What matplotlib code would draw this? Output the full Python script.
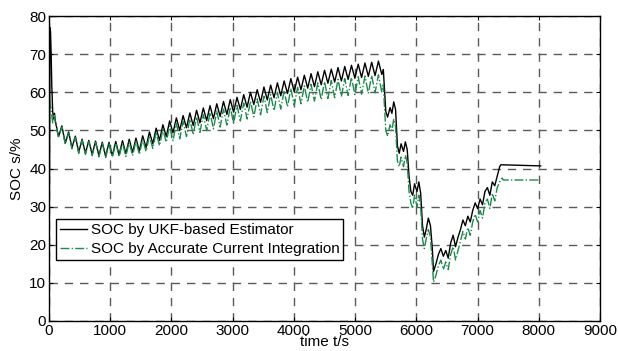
import numpy as np
import matplotlib
matplotlib.use("Agg")
import matplotlib.pyplot as plt

plt.rcParams['font.family'] = ['Liberation Sans', 'DejaVu Sans']

# start-up transient
head_t_ukf = [0, 15, 25, 35, 45, 60, 75, 90]
head_ukf = [0, 77, 76, 70, 62, 55, 53, 54.5]
head_t_ref = [0, 8, 30, 60, 80]
head_ref = [0, 58, 56, 52, 54]

# driving-cycle part, one value every 55 s from t=100 (peak, trough, ...)
osc_ukf = [52.8, 48.4, 51.2, 46.7, 49.6, 45.5, 48.5, 44.3, 47.7, 44.0,
           47.4, 43.7, 47.2, 43.4, 46.9, 43.2, 46.9, 43.4, 47.1, 43.6,
           47.3, 43.9, 47.7, 44.2, 48.0, 44.6, 48.6, 45.5, 49.6, 46.5,
           50.6, 47.4, 51.5, 48.4, 52.5, 49.4, 53.3, 50.0, 53.9, 50.7,
           54.6, 51.3, 55.3, 52.0, 55.9, 52.6, 56.5, 53.1, 57.0, 53.7,
           57.6, 54.2, 58.1, 54.8, 58.7, 55.5, 59.4, 56.1, 60.0, 56.8,
           60.7, 57.4, 61.4, 58.0, 61.9, 58.6, 62.5, 59.1, 63.0, 59.7,
           63.6, 60.2, 64.0, 60.7, 64.5, 61.1, 64.9, 61.5, 65.4, 62.0,
           65.8, 62.4, 66.1, 62.7, 66.5, 63.0, 66.8, 63.4, 67.1, 63.7,
           67.4, 63.9, 67.7, 64.2, 67.9, 64.4, 68.2, 64.7]
osc_ref = [52.5, 48.1, 50.9, 46.4, 49.3, 45.2, 48.2, 44.0, 47.4, 43.7,
           47.1, 43.4, 46.9, 43.1, 46.6, 42.9, 46.5, 43.0, 46.7, 43.1,
           46.7, 43.2, 47.0, 43.4, 47.2, 43.7, 47.7, 44.5, 48.6, 45.3,
           49.5, 46.0, 50.3, 46.9, 51.2, 47.3, 51.9, 47.8, 52.4, 48.4,
           53.0, 48.9, 53.6, 49.5, 54.2, 50.0, 54.7, 50.4, 55.1, 50.9,
           55.6, 51.4, 56.1, 51.9, 56.6, 52.5, 57.2, 53.0, 57.7, 53.6,
           58.3, 54.1, 59.0, 54.7, 59.4, 55.2, 60.0, 55.6, 60.4, 56.2,
           61.0, 56.6, 61.3, 57.0, 61.7, 57.4, 62.1, 57.7, 62.5, 58.1,
           62.8, 58.4, 63.1, 58.6, 63.4, 58.9, 63.6, 59.2, 63.9, 59.4,
           64.1, 59.5, 64.3, 59.7, 64.4, 59.9, 64.6, 60.1]

# discharge / charge part
tail_t_ukf = [5460, 5500, 5530, 5570, 5600, 5630, 5660, 5690, 5720, 5750,
              5790, 5820, 5850, 5880, 5910, 5940, 5970, 6010, 6040, 6070,
              6100, 6130, 6160, 6195, 6230, 6260, 6280, 6320, 6360, 6400,
              6440, 6480, 6520, 6560, 6600, 6640, 6680, 6720, 6760, 6800,
              6840, 6880, 6920, 6960, 7000, 7040, 7080, 7120, 7160, 7200,
              7240, 7280, 7320, 7360, 7380, 8030]
tail_ukf = [66, 55, 53.5, 56, 54.5, 57.5, 55.5, 46, 44, 46.5,
            44.5, 47, 45, 38, 34, 33, 36, 34, 36.5, 33.5,
            25, 22, 24, 27, 25, 19, 13, 15, 17.5, 19,
            17, 18.5, 16.5, 20.5, 22.5, 19.5, 22, 24, 26.5, 25,
            27.5, 26, 29, 31, 29.5, 32, 30.5, 34, 35, 33,
            36.5, 35.5, 38, 40.5, 41, 40.7]
tail_t_ref = [5460, 5500, 5530, 5570, 5600, 5630, 5660, 5690, 5720, 5750,
              5790, 5820, 5850, 5880, 5910, 5940, 5970, 6010, 6040, 6070,
              6100, 6130, 6160, 6195, 6230, 6260, 6280, 6320, 6360, 6400,
              6440, 6480, 6520, 6560, 6600, 6640, 6680, 6720, 6760, 6800,
              6840, 6880, 6920, 6960, 7000, 7040, 7080, 7120, 7160, 7200,
              7240, 7280, 7320, 7360, 7400, 7420, 8030]
tail_ref = [62, 50, 48.5, 51.5, 50, 53, 51, 42, 40.5, 43,
            40.5, 43.5, 41.5, 34, 31, 29.5, 33, 30, 33, 30,
            21.5, 19, 21.5, 24, 22, 15, 10.2, 12, 14.5, 16,
            13.5, 15.5, 13.5, 17.5, 19.5, 16, 18.5, 21, 23.5, 21.5,
            24.5, 22.5, 26, 28, 26, 29, 27, 31, 32, 29.5,
            33.5, 31.5, 35, 36.5, 37.5, 37, 37]

osc_t = list(100 + 55 * np.arange(len(osc_ukf)))
t_ukf = head_t_ukf + osc_t + tail_t_ukf
soc_ukf = head_ukf + osc_ukf + tail_ukf
t_ref = head_t_ref + osc_t + tail_t_ref
soc_ref = head_ref + osc_ref + tail_ref

fig = plt.figure(figsize=(6.18, 3.51), dpi=100)
ax = fig.add_axes([0.0793, 0.0855, 0.8917, 0.8685])

ax.plot(t_ukf, soc_ukf, color='black', lw=1.0,
        label='SOC by UKF-based Estimator')
ax.plot(t_ref, soc_ref, color='#1b8a4c', lw=1.0, ls='-.',
        label='SOC by Accurate Current Integration')

ax.set_xlim(0, 9000)
ax.set_ylim(0, 80)
ax.set_xticks(np.arange(0, 9001, 1000))
ax.set_yticks(np.arange(0, 81, 10))
ax.grid(True, color='#5a5a5a', ls=(0, (6, 5)), lw=1.0)
ax.tick_params(direction='in', length=3, labelsize=11, top=True, right=True,
               pad=2, colors='black')
for s in ax.spines.values():
    s.set_linewidth(1.0)
    s.set_color('black')

ax.set_xlabel('time t/s', fontsize=11, labelpad=-2)
ax.set_ylabel('SOC s/%', fontsize=11, labelpad=4)

leg = ax.legend(loc='lower left', bbox_to_anchor=(0.013, 0.2), fontsize=11,
                fancybox=False, framealpha=1, edgecolor='black',
                handlelength=1.8, handletextpad=0.2, borderpad=0.25,
                labelspacing=0.35, borderaxespad=0)
leg.get_frame().set_linewidth(1.0)

fig.savefig('out.png', dpi=100)
